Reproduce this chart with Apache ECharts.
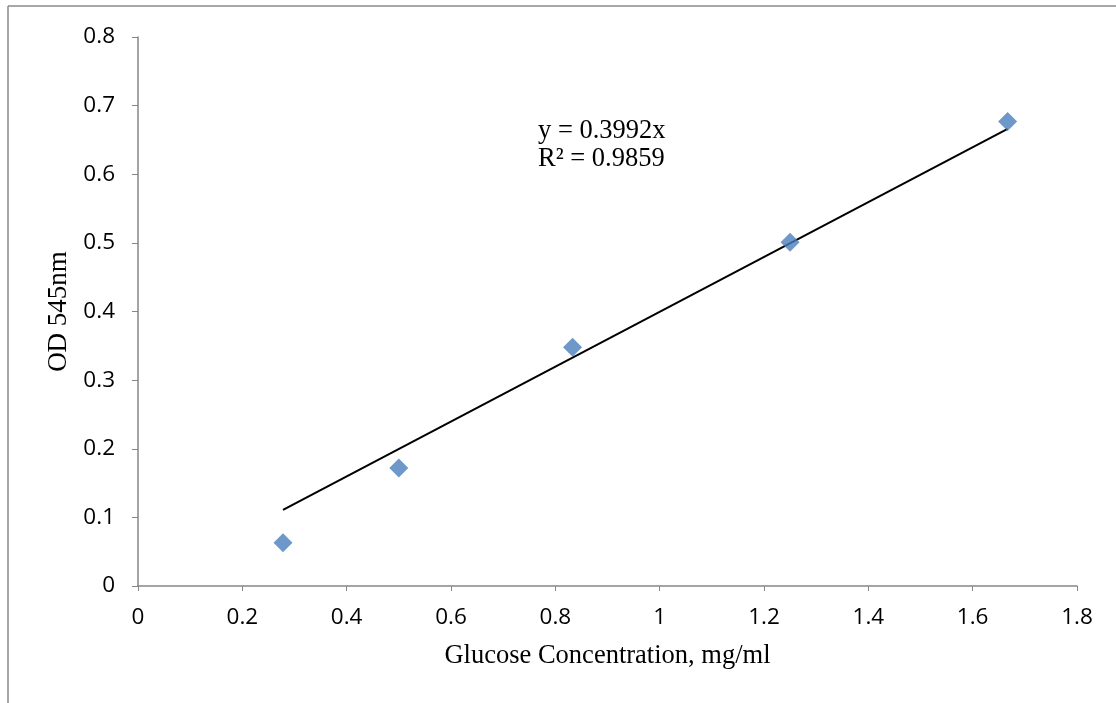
<!DOCTYPE html>
<html>
<head>
<meta charset="utf-8">
<script src="https://cdn.jsdelivr.net/npm/echarts@6/dist/echarts.min.js"></script>
<style>
html,body{margin:0;padding:0;background:#fff;}
#chart{width:1116px;height:703px;}
</style>
</head>
<body>
<div id="chart"></div>
<script>
// Data
const glucose = [0.278, 0.5, 0.833, 1.25, 1.667];
const od545 = [0.063, 0.172, 0.348, 0.501, 0.677];
// Trendline (y = 0.3992x) endpoints, spanning the data range
const trendX = [0.278, 1.667];
const trendY = [0.111, 0.666];
const xTickLabels = ['0', '0.2', '0.4', '0.6', '0.8', '1', '1.2', '1.4', '1.6', '1.8'];
const yTickLabels = ['0', '0.1', '0.2', '0.3', '0.4', '0.5', '0.6', '0.7', '0.8'];
const equationLines = ['y = 0.3992x', 'R\u00B2 = 0.9859'];

const chart = echarts.init(document.getElementById('chart'), null, {renderer: 'canvas'});
const axisColor = '#868686';
const labelFont = {fontFamily: 'Open Sans', fontSize: 22.5, color: '#000'};

chart.setOption({
  backgroundColor: '#fff',
  animation: false,
  grid: {left: 138, right: 39, top: 37, bottom: 117, containLabel: false},
  xAxis: {
    type: 'value', min: 0, max: 1.8, interval: 0.2,
    name: 'Glucose Concentration, mg/ml', nameLocation: 'middle', nameGap: 57,
    nameTextStyle: {fontFamily: 'Liberation Serif', fontSize: 26.5, color: '#000'},
    axisLine: {show: true, onZero: false, lineStyle: {color: axisColor, width: 1.5}},
    axisTick: {show: true, inside: false, length: 5, lineStyle: {color: axisColor}},
    splitLine: {show: false},
    axisLabel: Object.assign({margin: 20, formatter: (v) => xTickLabels[Math.round(v / 0.2)]}, labelFont)
  },
  yAxis: {
    type: 'value', min: 0, max: 0.8, interval: 0.1,
    name: 'OD 545nm', nameLocation: 'middle', nameGap: 66,
    nameTextStyle: {fontFamily: 'Liberation Serif', fontSize: 27, color: '#000'},
    axisLine: {show: true, onZero: false, lineStyle: {color: axisColor, width: 1.5}},
    axisTick: {show: true, inside: false, length: 6, lineStyle: {color: axisColor}},
    splitLine: {show: false},
    axisLabel: Object.assign({margin: 23, formatter: (v) => yTickLabels[Math.round(v / 0.1)]}, labelFont)
  },
  series: [
    {
      type: 'line',
      data: trendX.map((x, i) => [x, trendY[i]]),
      symbol: 'none',
      lineStyle: {color: '#000', width: 2},
      z: 2
    },
    {
      type: 'scatter',
      data: glucose.map((x, i) => [x, od545[i]]),
      symbol: 'diamond',
      symbolSize: 19,
      itemStyle: {color: '#4A7EBB'},
      z: 3
    }
  ],
  graphic: [
    {type: 'line', shape: {x1: 8, y1: 6, x2: 1116, y2: 6}, style: {stroke: '#8a8a8a', lineWidth: 1.5}},
    {type: 'line', shape: {x1: 8, y1: 6, x2: 8, y2: 703}, style: {stroke: '#8a8a8a', lineWidth: 1.5}},
    {type: 'text', left: 538, top: 117, style: {text: equationLines.join('\n'), fontFamily: 'Liberation Serif', fontSize: 26.5, lineHeight: 28, fill: '#000', align: 'left'}}
  ]
});
</script>
</body>
</html>
